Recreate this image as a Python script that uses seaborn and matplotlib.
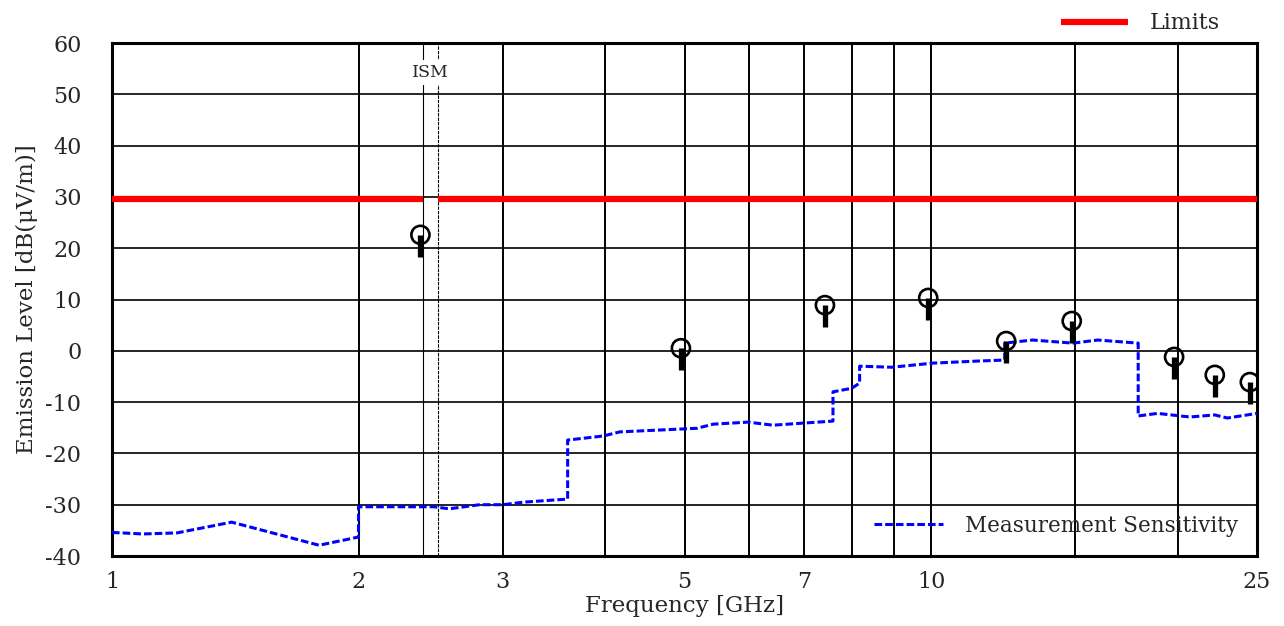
import matplotlib
matplotlib.use('Agg')
import matplotlib.pyplot as plt
import pandas as pd
import seaborn as sns
import numpy as np

# measurement sensitivity (step curve, repeated x = vertical step)
sens_freq = [1.0, 1.09, 1.20, 1.40, 1.79, 2.0, 2.0, 2.47, 2.58, 2.81,
             3.0, 3.18, 3.60, 3.60, 3.98, 4.17, 5.18, 5.42, 5.98, 6.41,
             6.97, 7.59, 7.59, 8.0, 8.18, 8.18, 8.96, 10.05, 11.4, 12.3,
             12.3, 13.3, 14.9, 15.98, 17.9, 17.9, 18.9, 20.7, 22.2, 23.0,
             25.0]
sens_level = [-35.4, -35.7, -35.5, -33.4, -37.9, -36.3, -30.4, -30.4, -30.8, -30.0,
              -30.0, -29.5, -28.9, -17.4, -16.6, -15.8, -15.1, -14.3, -13.9, -14.5,
              -14.1, -13.7, -8.0, -7.3, -6.3, -3.0, -3.2, -2.4, -2.0, -1.8,
              1.5, 2.1, 1.5, 2.1, 1.5, -12.7, -12.2, -12.9, -12.5, -13.1,
              -12.2]

# limit line, broken over the ISM band
limit_freq = [1.0, 2.4, np.nan, 2.5, 25.0]
limit_level = [29.5, 29.5, np.nan, 29.5, 29.5]

# measured peaks
peak_freq = [2.38, 4.95, 7.42, 9.92, 12.35, 14.85, 19.8, 22.2, 24.5]
peak_level = [22.6, 0.5, 8.9, 10.3, 1.9, 5.8, -1.2, -4.7, -6.1]

ism_band = [2.4, 2.5]
grid_x = [2, 3, 4, 5, 6, 7, 8, 9, 10, 15, 20]
xtick_vals = [1, 2, 3, 5, 7, 10, 25]
xtick_labels = ['1', '2', '3', '5', '7', '10', '25']
ytick_vals = [-40, -30, -20, -10, 0, 10, 20, 30, 40, 50, 60]

sens_df = pd.DataFrame({'freq': sens_freq, 'level': sens_level})
peak_df = pd.DataFrame({'freq': peak_freq, 'level': peak_level})

sns.set_theme(style='white')
plt.rcParams['font.family'] = ['DejaVu Serif']

fig = plt.figure(figsize=(12.84, 6.26), dpi=100)
ax = fig.add_axes([0.0872, 0.1118, 0.8918, 0.8195])
ax.set_xscale('log')

# grid
for gx in grid_x:
    ax.axvline(gx, color='black', lw=1.4, zorder=1)
for gy in ytick_vals[1:-1]:
    ax.axhline(gy, color='black', lw=1.2, zorder=1)
ax.axvline(ism_band[0], color='black', lw=0.8, zorder=1)
ax.axvline(ism_band[1], color='black', lw=0.8, ls=(0, (3, 1)), zorder=1)
ax.text(np.sqrt(ism_band[0] * ism_band[1]), 54.2, 'ISM', ha='center', va='center',
        fontsize=12.5, bbox=dict(facecolor='white', edgecolor='none', pad=3), zorder=2)

# limits
lim_line, = ax.plot(limit_freq, limit_level, color='#ff0000', lw=4.5, zorder=3,
                    solid_capstyle='butt', label='Limits')

# sensitivity
sns.lineplot(data=sens_df, x='freq', y='level', ax=ax, estimator=None, sort=False,
             color='#0000ff', lw=2.2, linestyle=(0, (2.5, 1)), zorder=4,
             label='Measurement Sensitivity')
sens_line = ax.get_lines()[-1]

# peaks
ax.vlines(peak_df['freq'], peak_df['level'] - 4.3, peak_df['level'], color='black',
          lw=3.8, zorder=5)
sns.scatterplot(data=peak_df, x='freq', y='level', ax=ax, marker='o', s=170,
                facecolors='none', edgecolor='black', linewidth=1.9, zorder=6)

ax.set_xlim(1, 25)
ax.set_ylim(-40, 60)
ax.set_xticks(xtick_vals)
ax.set_xticklabels(xtick_labels)
ax.xaxis.set_minor_locator(matplotlib.ticker.NullLocator())
ax.set_yticks(ytick_vals)
ax.set_yticklabels([str(v) for v in ytick_vals])
ax.tick_params(axis='x', length=0, pad=11, labelsize=16)
ax.tick_params(axis='y', length=0, pad=22, labelsize=16)
ax.set_xlabel('Frequency [GHz]', fontsize=16.5, labelpad=1)
ax.set_ylabel('Emission Level [dB(μV/m)]', fontsize=16.5, labelpad=5)
for sp in ax.spines.values():
    sp.set_color('black')
    sp.set_linewidth(2.2)

ax.legend(handles=[sens_line], loc='lower right', frameon=False, fontsize=15.5,
          handlelength=3.2, handletextpad=1.0, borderaxespad=0.5)
fig.legend(handles=[lim_line], loc='upper right', frameon=False, fontsize=16,
           handlelength=3.0, handletextpad=1.0, bbox_to_anchor=(0.966, 1.012))

fig.savefig('out.png', dpi=100)
